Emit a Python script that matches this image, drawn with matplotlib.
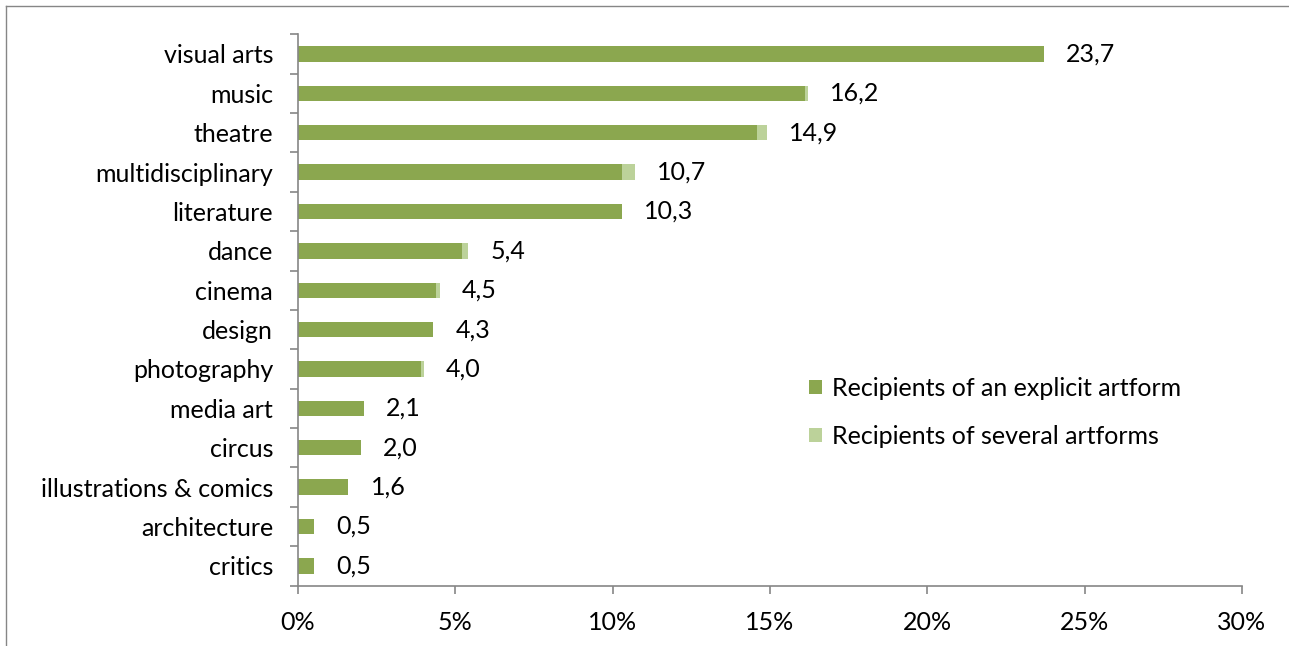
import matplotlib.pyplot as plt
from matplotlib.lines import Line2D
from matplotlib.ticker import FixedLocator

plt.rcParams['font.family'] = ['Lato', 'DejaVu Sans']

# kategorie od góry do dołu
categories = ['visual arts', 'music', 'theatre', 'multidisciplinary', 'literature',
              'dance', 'cinema', 'design', 'photography', 'media art', 'circus',
              'illustrations & comics', 'architecture', 'critics']
explicit = [23.7, 16.1, 14.6, 10.3, 10.3, 5.2, 4.4, 4.3, 3.9, 2.1, 2.0, 1.6, 0.5, 0.5]
several = [0.0, 0.1, 0.3, 0.4, 0.0, 0.2, 0.1, 0.0, 0.1, 0.0, 0.0, 0.0, 0.0, 0.0]
totals = ['23,7', '16,2', '14,9', '10,7', '10,3', '5,4', '4,5', '4,3', '4,0',
          '2,1', '2,0', '1,6', '0,5', '0,5']
xticks = [0, 5, 10, 15, 20, 25, 30]

dark = '#8BA74F'
light = '#BCD29A'
grey = '#868686'
fs = 18

fig = plt.figure(figsize=(12.89, 6.46), dpi=100)
ax = fig.add_axes([0.2312, 0.0935, 0.7323, 0.8535])

y = list(range(len(categories)))
ax.barh(y, explicit, height=0.39, color=dark, label='Recipients of an explicit artform')
ax.barh(y, several, left=explicit, height=0.39, color=light,
        label='Recipients of several artforms')

for k in range(len(categories)):
    ax.annotate(totals[k], (explicit[k] + several[k], y[k]), xytext=(16, 0),
                textcoords='offset points', va='center', ha='left', fontsize=fs)

ax.set_ylim(len(categories) - 0.5, -0.5)
ax.set_xlim(0, 30)

ax.set_yticks(y)
ax.set_yticklabels(categories, fontsize=fs)
ax.yaxis.set_minor_locator(FixedLocator([k - 0.5 for k in range(len(categories) + 1)]))
ax.tick_params(axis='y', which='major', length=0, pad=18)
ax.tick_params(axis='y', which='minor', length=6, color=grey, width=1.2)

ax.set_xticks(xticks)
ax.set_xticklabels([str(t) + '%' for t in xticks], fontsize=fs)
ax.tick_params(axis='x', length=6, color=grey, width=1.2, pad=12)

for s in ['top', 'right']:
    ax.spines[s].set_visible(False)
for s in ['left', 'bottom']:
    ax.spines[s].set_color(grey)
    ax.spines[s].set_linewidth(1.2)

ax.legend(loc='upper left', bbox_to_anchor=(0.518, 0.419), frameon=False,
          fontsize=fs, handlelength=0.5, handleheight=0.5, handletextpad=0.4,
          labelspacing=1.0)

# ramka wykresu (widoczna tylko lewa i górna krawędź)
fig.add_artist(Line2D([0.0047, 0.0047], [0, 0.9907], color=grey, lw=1))
fig.add_artist(Line2D([0.0047, 1.0], [0.9907, 0.9907], color=grey, lw=1))

fig.savefig('out.png', dpi=100)
